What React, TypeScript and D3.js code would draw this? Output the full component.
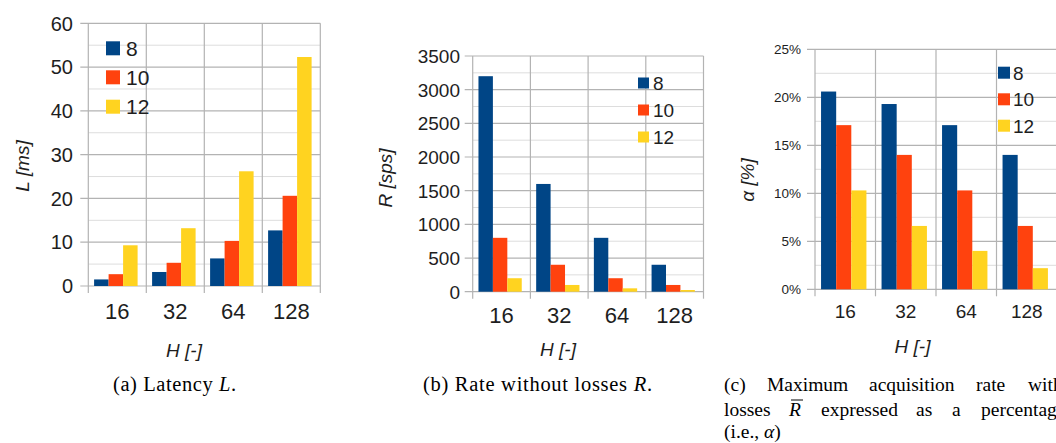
import {useEffect, useRef} from 'react';
import * as d3 from 'd3';

const categories = ['16', '32', '64', '128'];
const seriesLabels = ['8', '10', '12'];
const colors = ['#004586', '#ff420e', '#ffd320'];

// (a) latency L [ms]
const latency8 = [1.5, 3.2, 6.3, 12.7];
const latency10 = [2.7, 5.3, 10.3, 20.6];
const latency12 = [9.3, 13.2, 26.2, 52.3];
const latencyTicks = [0, 10, 20, 30, 40, 50, 60];

// (b) rate without losses R [sps]
const rate8 = [3200, 1600, 800, 400];
const rate10 = [800, 400, 200, 100];
const rate12 = [200, 100, 50, 25];
const rateTicks = [0, 500, 1000, 1500, 2000, 2500, 3000, 3500];

// (c) alpha [%]
const alpha8 = [20.6, 19.3, 17.1, 14.0];
const alpha10 = [17.1, 14.0, 10.3, 6.6];
const alpha12 = [10.3, 6.6, 4.0, 2.2];
const alphaTicks = [0, 5, 10, 15, 20, 25];

type Panel = {
  series: number[][];
  ticks: number[];
  fmt: (v: number) => string;
  left: number;
  top: number;
  bottom: number;
  band: number;
  tickFont: number;
  tickRight: number;
  catFont: number;
  catBase: number;
  legX: number;
  legY: number[];
  legSize: number;
  legFont: number;
  legTextX: number;
  yTitle: string;
  yTitleX: number;
  yTitleY: number;
  xTitleX: number;
  xTitleY: number;
  titleFont: number;
};

const panels: Panel[] = [
  {
    series: [latency8, latency10, latency12],
    ticks: latencyTicks,
    fmt: (v) => String(v),
    left: 88.3, top: 23.3, bottom: 286, band: 58,
    tickFont: 20, tickRight: 73, catFont: 22, catBase: 318.5,
    legX: 106, legY: [48.3, 77.3, 106.7], legSize: 14, legFont: 21, legTextX: 126,
    yTitle: 'L [ms]', yTitleX: 22, yTitleY: 166, xTitleX: 184, xTitleY: 350, titleFont: 19,
  },
  {
    series: [rate8, rate10, rate12],
    ticks: rateTicks,
    fmt: (v) => String(v),
    left: 472.7, top: 56, bottom: 291.7, band: 57.7,
    tickFont: 19, tickRight: 460, catFont: 22, catBase: 322.7,
    legX: 638, legY: [83, 110, 137], legSize: 11, legFont: 19, legTextX: 653,
    yTitle: 'R [sps]', yTitleX: 385, yTitleY: 178, xTitleX: 558, xTitleY: 349, titleFont: 19,
  },
  {
    series: [alpha8, alpha10, alpha12],
    ticks: alphaTicks,
    fmt: (v) => v + '%',
    left: 815, top: 49.3, bottom: 289.3, band: 60.5,
    tickFont: 13.5, tickRight: 801, catFont: 19, catBase: 318.3,
    legX: 998, legY: [72.7, 99.3, 125.7], legSize: 12, legFont: 19, legTextX: 1013,
    yTitle: 'α [%]', yTitleX: 747.5, yTitleY: 180, xTitleX: 912.5, xTitleY: 346, titleFont: 19,
  },
];

const SANS = 'Liberation Sans, Arial, sans-serif';
const SERIF = 'Liberation Serif, Times New Roman, serif';
const TEXT = '#1e1e1e';

const drawPanel = (svg: d3.Selection<SVGSVGElement, unknown, null, undefined>, p: Panel) => {
  const g = svg.append('g');
  const right = p.left + p.band * categories.length;
  const x = d3.scaleBand().domain(categories).range([p.left, right]);
  const inner = d3.scaleBand().domain(seriesLabels).range([p.band * 0.1, p.band * 0.85]);
  const yMax = p.ticks[p.ticks.length - 1];
  const y = d3.scaleLinear().domain([0, yMax]).range([p.bottom, p.top]);

  // minor grid lines halfway between the major ticks
  const minor = p.ticks.slice(1).map((t, i) => (t + p.ticks[i]) / 2);
  g.selectAll('line.minor')
    .data(minor)
    .enter()
    .append('line')
    .attr('x1', p.left)
    .attr('x2', right)
    .attr('y1', (d) => y(d))
    .attr('y2', (d) => y(d))
    .attr('stroke', '#dddddd')
    .attr('stroke-width', 1);

  // major grid + y tick marks
  g.selectAll('line.major')
    .data(p.ticks)
    .enter()
    .append('line')
    .attr('x1', p.left - 8)
    .attr('x2', right)
    .attr('y1', (d) => y(d))
    .attr('y2', (d) => y(d))
    .attr('stroke', '#b3b3b3')
    .attr('stroke-width', 1.2);

  // vertical separators at category boundaries
  const bounds = categories.map((c) => x(c)!).concat([right]);
  g.selectAll('line.vert')
    .data(bounds)
    .enter()
    .append('line')
    .attr('x1', (d) => d)
    .attr('x2', (d) => d)
    .attr('y1', y(yMax))
    .attr('y2', p.bottom + 7)
    .attr('stroke', '#b3b3b3')
    .attr('stroke-width', 1.2);

  // bars
  p.series.forEach((vals, si) => {
    g.selectAll(`rect.s${si}`)
      .data(vals)
      .enter()
      .append('rect')
      .attr('x', (_, i) => x(categories[i])! + inner(seriesLabels[si])!)
      .attr('width', inner.bandwidth())
      .attr('y', (d) => y(d))
      .attr('height', (d) => p.bottom - y(d))
      .attr('fill', colors[si]);
  });

  // y tick labels
  g.selectAll('text.ytick')
    .data(p.ticks)
    .enter()
    .append('text')
    .attr('x', p.tickRight)
    .attr('y', (d) => y(d))
    .attr('dy', '0.36em')
    .attr('text-anchor', 'end')
    .attr('font-family', SANS)
    .attr('font-size', p.tickFont)
    .attr('fill', TEXT)
    .text((d) => p.fmt(d));

  // category labels
  g.selectAll('text.cat')
    .data(categories)
    .enter()
    .append('text')
    .attr('x', (d) => x(d)! + p.band / 2)
    .attr('y', p.catBase)
    .attr('text-anchor', 'middle')
    .attr('font-family', SANS)
    .attr('font-size', p.catFont)
    .attr('fill', TEXT)
    .text((d) => d);

  // legend
  seriesLabels.forEach((s, i) => {
    g.append('rect')
      .attr('x', p.legX)
      .attr('y', p.legY[i] - p.legSize / 2)
      .attr('width', p.legSize)
      .attr('height', p.legSize)
      .attr('fill', colors[i]);
    g.append('text')
      .attr('x', p.legTextX)
      .attr('y', p.legY[i])
      .attr('dy', '0.36em')
      .attr('font-family', SANS)
      .attr('font-size', p.legFont)
      .attr('fill', TEXT)
      .text(s);
  });

  // axis titles
  g.append('text')
    .attr('transform', `translate(${p.yTitleX},${p.yTitleY}) rotate(-90)`)
    .attr('dy', '0.35em')
    .attr('text-anchor', 'middle')
    .attr('font-family', SANS)
    .attr('font-style', 'italic')
    .attr('font-size', p.titleFont)
    .attr('fill', TEXT)
    .text(p.yTitle);
  g.append('text')
    .attr('x', p.xTitleX)
    .attr('y', p.xTitleY)
    .attr('dy', '0.35em')
    .attr('text-anchor', 'middle')
    .attr('font-family', SANS)
    .attr('font-style', 'italic')
    .attr('font-size', p.titleFont)
    .attr('fill', TEXT)
    .text('H [-]');
};

const drawCaptions = (svg: d3.Selection<SVGSVGElement, unknown, null, undefined>) => {
  const cap = svg.append('g').attr('font-family', SERIF).attr('font-size', 19.5).attr('fill', '#000');

  const a = cap.append('text')
    .attr('x', 113)
    .attr('y', 391)
    .attr('font-size', 20.5)
    .attr('textLength', 123)
    .attr('lengthAdjust', 'spacing');
  a.append('tspan').text('(a) Latency ');
  a.append('tspan').attr('font-style', 'italic').text('L');
  a.append('tspan').text('.');

  const b = cap.append('text')
    .attr('x', 423)
    .attr('y', 391)
    .attr('font-size', 20.5)
    .attr('textLength', 229)
    .attr('lengthAdjust', 'spacing');
  b.append('tspan').text('(b) Rate without losses ');
  b.append('tspan').attr('font-style', 'italic').text('R');
  b.append('tspan').text('.');

  // (c) justified lines, cut by the right edge like the source page
  const line1: [string, number][] = [
    ['(c)', 724],
    ['Maximum', 767],
    ['acquisition', 869],
    ['rate', 976],
    ['with', 1028],
  ];
  line1.forEach(([w, xx]) => cap.append('text').attr('x', xx).attr('y', 391).text(w));

  const line2: [string, number, boolean][] = [
    ['losses', 724, false],
    ['R', 789, true],
    ['expressed', 821, false],
    ['as', 916, false],
    ['a', 952, false],
    ['percentage', 981, false],
  ];
  line2.forEach(([w, xx, it]) =>
    cap.append('text').attr('x', xx).attr('y', 416).attr('font-style', it ? 'italic' : 'normal').text(w),
  );
  cap.append('line')
    .attr('x1', 791)
    .attr('x2', 803)
    .attr('y1', 400)
    .attr('y2', 400)
    .attr('stroke', '#000')
    .attr('stroke-width', 1);

  const c3 = cap.append('text').attr('x', 724).attr('y', 438);
  c3.append('tspan').text('(i.e., ');
  c3.append('tspan').attr('font-style', 'italic').text('α');
  c3.append('tspan').text(')');
};

const App = () => {
  const ref = useRef<SVGSVGElement>(null);

  useEffect(() => {
    if (!ref.current) return;
    const svg = d3.select(ref.current);
    svg.selectAll('*').remove();
    panels.forEach((p) => drawPanel(svg, p));
    drawCaptions(svg);
    return () => {
      svg.selectAll('*').remove();
    };
  }, []);

  return (
    <svg
      ref={ref}
      width={1056}
      height={443}
      style={{position: 'absolute', left: 0, top: 0, background: '#fff'}}
    />
  );
};

export default App;
